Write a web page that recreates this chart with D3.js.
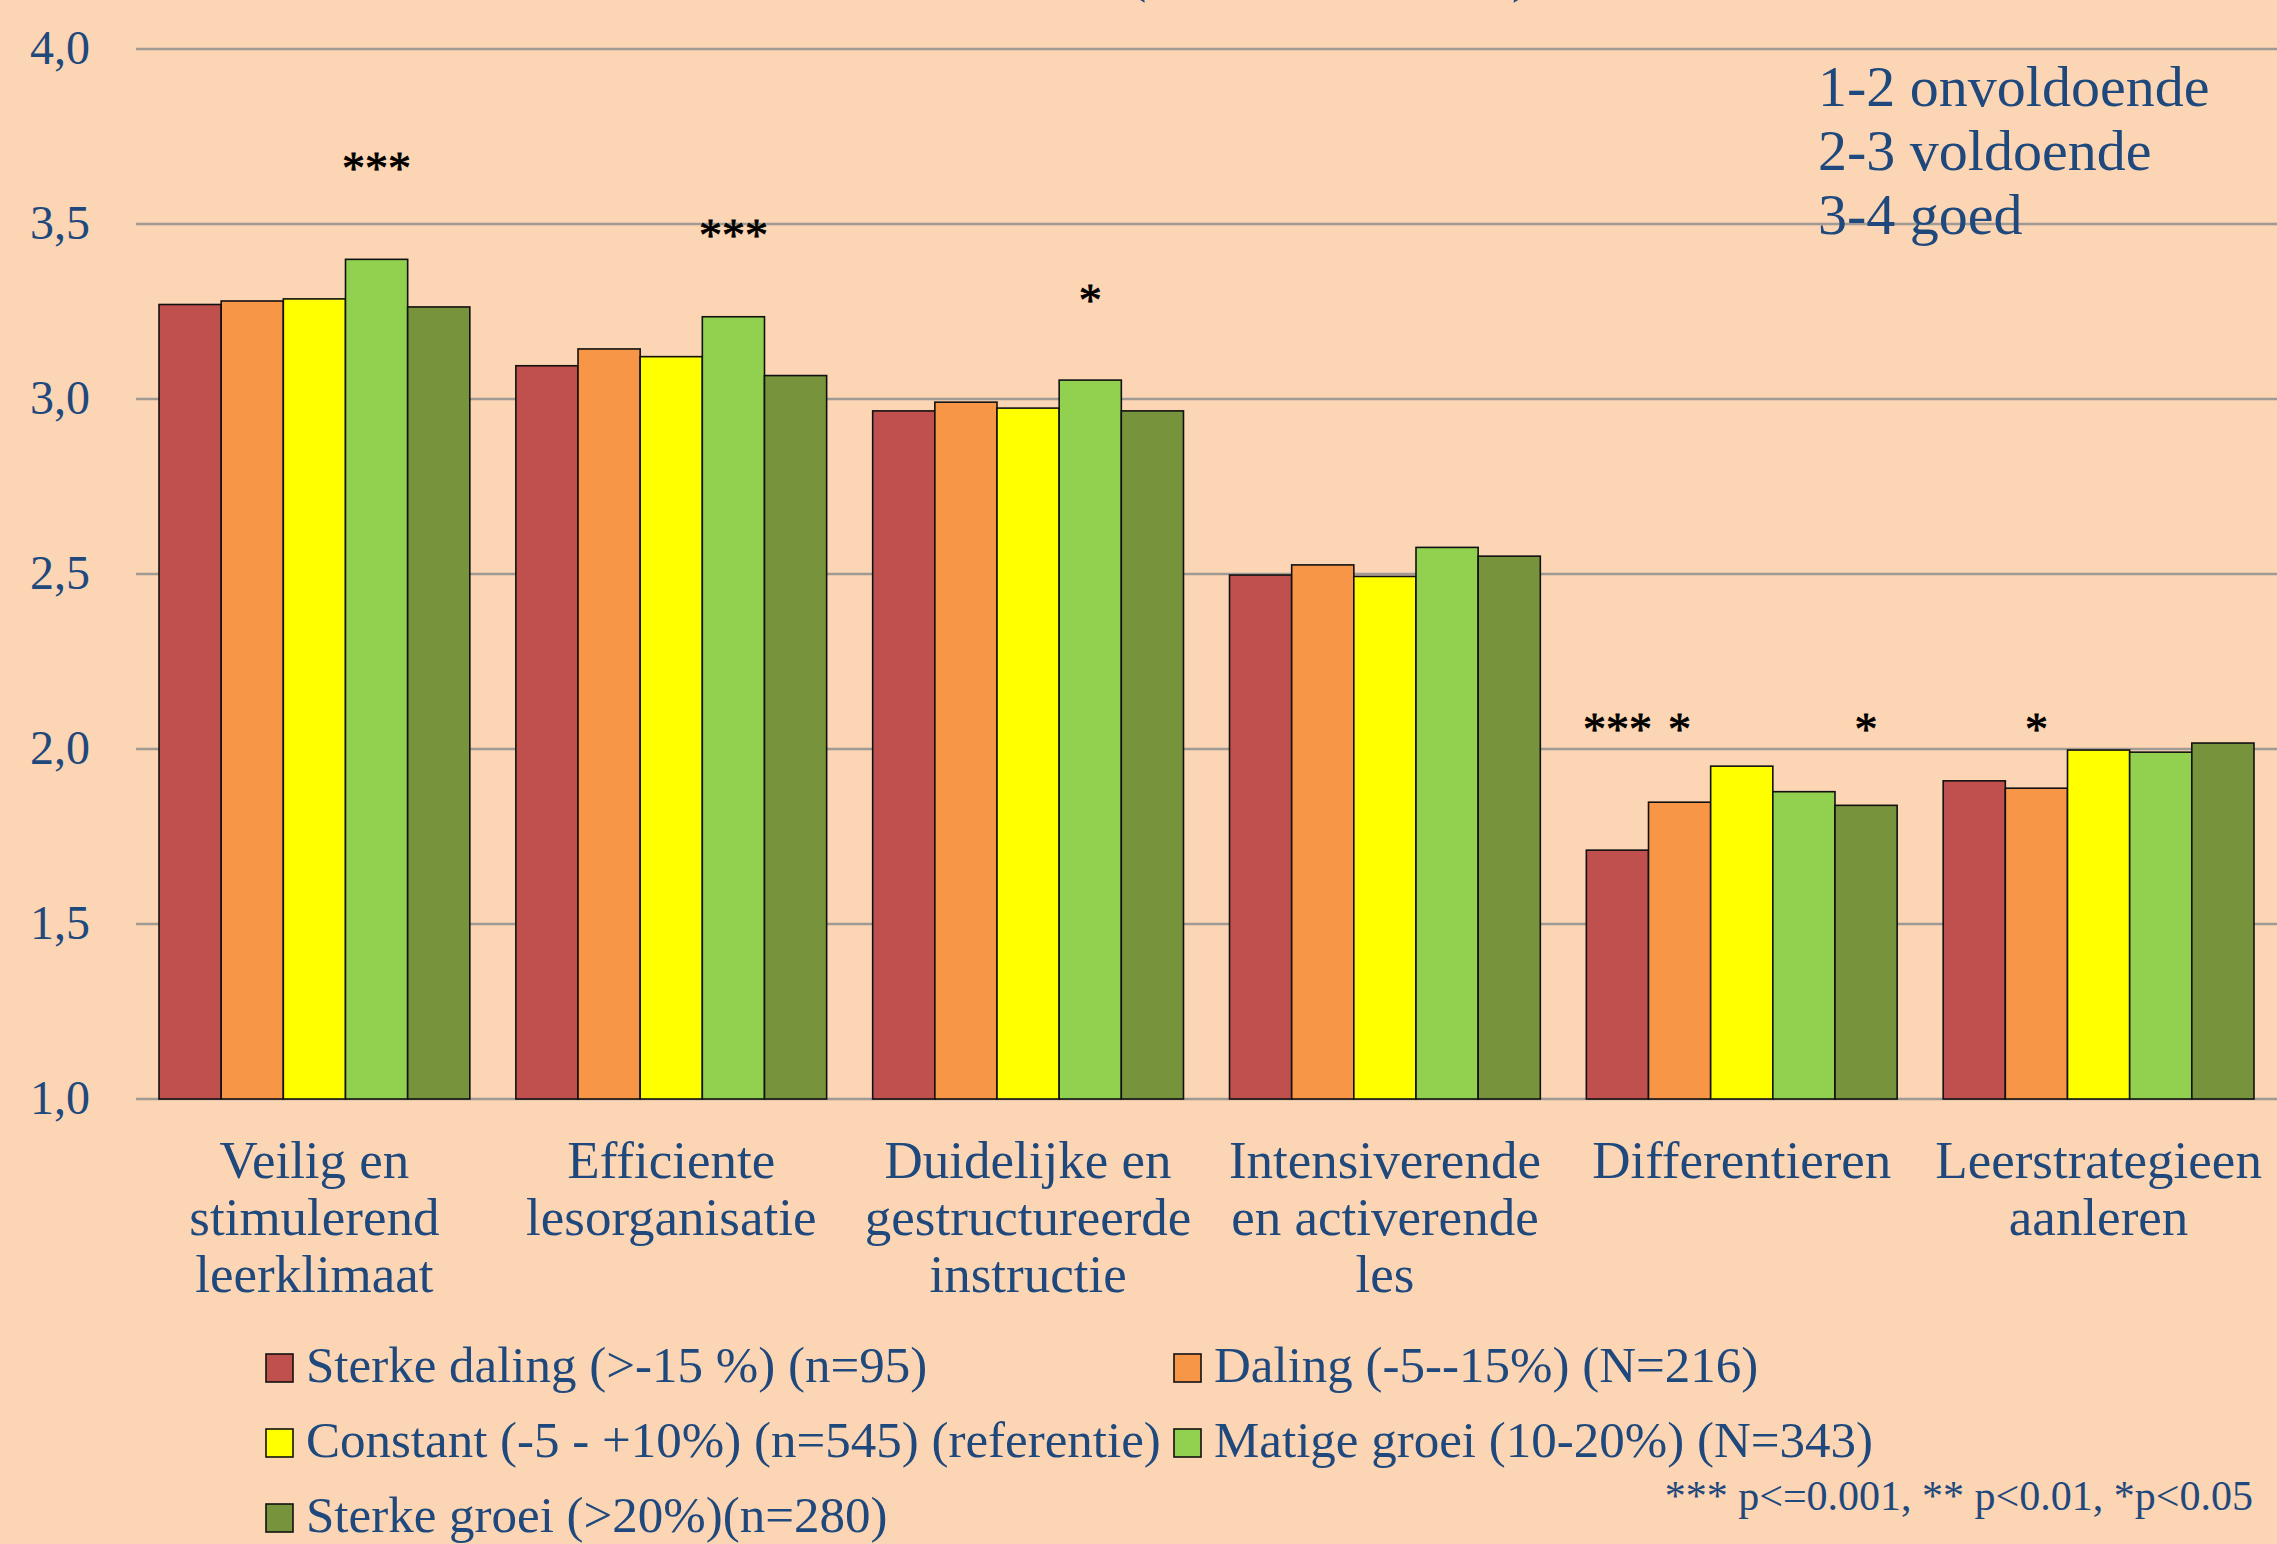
<!DOCTYPE html>
<html>
<head>
<meta charset="utf-8">
<script src="https://cdn.jsdelivr.net/npm/d3@7"></script>
<style>
  html, body { margin: 0; padding: 0; background: #fcd5b4; }
  svg { display: block; }
  text { font-family: "Liberation Serif", "Times New Roman", serif; }
</style>
</head>
<body>
<div id="chart"></div>
<script>
const categories = [
  ['Veilig en', 'stimulerend', 'leerklimaat'],
  ['Efficiente', 'lesorganisatie'],
  ['Duidelijke en', 'gestructureerde', 'instructie'],
  ['Intensiverende', 'en activerende', 'les'],
  ['Differentieren'],
  ['Leerstrategieen', 'aanleren']
];
const seriesNames = [
  'Sterke daling (>-15 %) (n=95)',
  'Daling (-5--15%) (N=216)',
  'Constant (-5 - +10%) (n=545) (referentie)',
  'Matige groei (10-20%) (N=343)',
  'Sterke groei (>20%)(n=280)'
];
const sterkeDaling = [3.27, 3.095, 2.966, 2.497, 1.711, 1.909];
const daling       = [3.28, 3.143, 2.991, 2.526, 1.848, 1.888];
const constant     = [3.286, 3.121, 2.974, 2.493, 1.951, 1.997];
const matigeGroei  = [3.399, 3.235, 3.054, 2.576, 1.878, 1.991];
const sterkeGroei  = [3.263, 3.067, 2.966, 2.551, 1.839, 2.017];
const seriesValues = [sterkeDaling, daling, constant, matigeGroei, sterkeGroei];
const yTicks = [1.0, 1.5, 2.0, 2.5, 3.0, 3.5, 4.0];
// significance marks: category index, series index, level of the mark
const stars = [
  { cat: 0, s: 3, label: '***', level: 3.69 },
  { cat: 1, s: 3, label: '***', level: 3.497 },
  { cat: 2, s: 3, label: '*', level: 3.311 },
  { cat: 4, s: 0, label: '***', level: 2.087 },
  { cat: 4, s: 1, label: '*', level: 2.087 },
  { cat: 4, s: 4, label: '*', level: 2.087 },
  { cat: 5, s: 1, label: '*', level: 2.087 }
];
const scaleNotes = ['1-2 onvoldoende', '2-3 voldoende', '3-4 goed'];
const footnote = '*** p<=0.001, ** p<0.01, *p<0.05';

const COLORS = ['#c0504d', '#f79646', '#ffff00', '#92d050', '#77933c'];
const TEXT = '#1f497d';
const W = 2277, H = 1544;

const svg = d3.select('#chart').append('svg')
  .attr('width', W).attr('height', H);

svg.append('rect').attr('width', W).attr('height', H).attr('fill', '#fcd5b4');

const x0 = d3.scaleBand()
  .domain(d3.range(categories.length))
  .range([136, W])
  .paddingInner(0.129)
  .paddingOuter(0.0645);
const x1 = d3.scaleBand()
  .domain(d3.range(seriesNames.length))
  .range([0, x0.bandwidth()]);
const y = d3.scaleLinear().domain([1, 4]).range([1099, 49]);

// title remnant (cut off at top of the picture)
svg.append('text').attr('x', 1128).attr('y', -9).attr('font-size', 55).attr('fill', TEXT).text('(');
svg.append('text').attr('x', 1512).attr('y', -9).attr('font-size', 55).attr('fill', TEXT).text(')');

// gridlines
svg.append('g').selectAll('line')
  .data(yTicks)
  .join('line')
  .attr('x1', 136).attr('x2', W)
  .attr('y1', d => y(d)).attr('y2', d => y(d))
  .attr('stroke', '#a09a94')
  .attr('stroke-width', 2.5);

// y labels
svg.append('g').selectAll('text')
  .data(yTicks)
  .join('text')
  .attr('x', 90)
  .attr('y', d => y(d) + 15)
  .attr('text-anchor', 'end')
  .attr('font-size', 48)
  .attr('fill', TEXT)
  .text(d => d3.format('.1f')(d).replace('.', ','));

// bars
const groups = svg.append('g').selectAll('g')
  .data(categories.map((c, i) => i))
  .join('g')
  .attr('transform', i => `translate(${x0(i)},0)`);
groups.selectAll('rect')
  .data(i => seriesValues.map((vals, s) => ({ s, v: vals[i] })))
  .join('rect')
  .attr('x', d => x1(d.s))
  .attr('y', d => y(d.v))
  .attr('width', x1.bandwidth())
  .attr('height', d => y(1) - y(d.v))
  .attr('fill', d => COLORS[d.s])
  .attr('stroke', '#111')
  .attr('stroke-width', 1.6);

// significance stars
svg.append('g').selectAll('text')
  .data(stars)
  .join('text')
  .attr('x', d => x0(d.cat) + x1(d.s) + x1.bandwidth() / 2)
  .attr('y', d => y(d.level) + 26)
  .attr('text-anchor', 'middle')
  .attr('font-family', '"Liberation Sans", Arial, sans-serif')
  .attr('font-size', 46)
  .attr('fill', '#000')
  .attr('stroke', '#000')
  .attr('stroke-width', 0.8)
  .text(d => d.label);

// category labels
const catLabels = svg.append('g').selectAll('text')
  .data(categories)
  .join('text')
  .attr('text-anchor', 'middle')
  .attr('font-size', 53)
  .attr('fill', TEXT)
  .attr('transform', (d, i) => `translate(${x0(i) + x0.bandwidth() / 2},1178)`);
catLabels.selectAll('tspan')
  .data(d => d)
  .join('tspan')
  .attr('x', 0)
  .attr('y', (d, j) => j * 57)
  .text(d => d);

// scale notes top right
svg.append('g').selectAll('text')
  .data(scaleNotes)
  .join('text')
  .attr('x', 1818)
  .attr('y', (d, i) => 106 + i * 64)
  .attr('font-size', 58)
  .attr('fill', TEXT)
  .text(d => d);

// legend
const legend = svg.append('g').selectAll('g')
  .data(seriesNames)
  .join('g')
  .attr('transform', (d, i) => `translate(${i % 2 === 0 ? 266 : 1174},${1382 + Math.floor(i / 2) * 75})`);
legend.append('rect')
  .attr('x', 0).attr('y', -28)
  .attr('width', 27).attr('height', 28)
  .attr('fill', (d, i) => COLORS[i])
  .attr('stroke', '#111')
  .attr('stroke-width', 1.6);
legend.append('text')
  .attr('x', 40).attr('y', 0)
  .attr('font-size', 51)
  .attr('fill', TEXT)
  .text(d => d);

// footnote
svg.append('text')
  .attr('x', 2253).attr('y', 1510)
  .attr('text-anchor', 'end')
  .attr('font-size', 42)
  .attr('fill', TEXT)
  .text(footnote);
</script>
</body>
</html>
